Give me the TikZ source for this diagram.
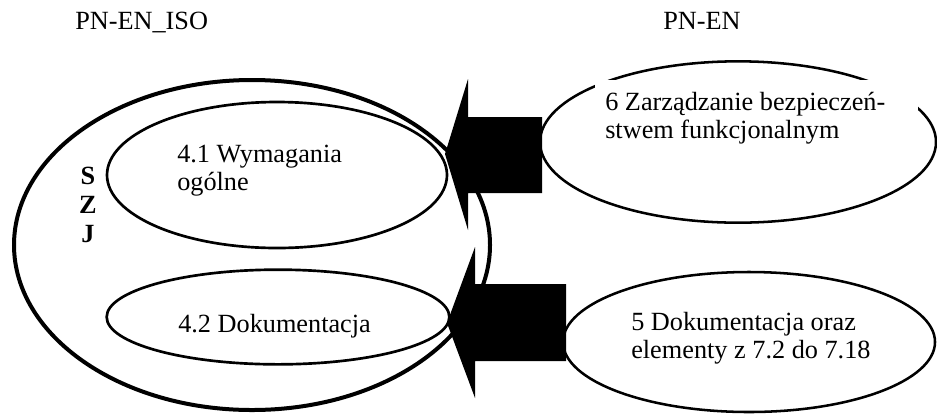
\documentclass[tikz,border=0pt]{standalone}
\usepackage{fontspec}
\setmainfont{Liberation Serif}
\usetikzlibrary{%
  shapes.geometric,% ellipse
  positioning%
}

\begin{document}
\begin{tikzpicture}[
  x=0.75pt, y=-0.75pt,
  font=\fontsize{19.7}{21}\selectfont,
  outer/.style={ellipse, inner sep=0pt, draw=black, line width=3pt},
  inner/.style={ellipse, inner sep=0pt, draw=black, line width=2pt},
  clause/.style={ellipse, inner sep=0pt, draw=black, line width=1.9pt},
  txt/.style={anchor=base west, inner sep=0pt, align=flush left}
]
\useasboundingbox (0,0) rectangle (937,415);

\node (iso) [anchor=base west, inner sep=0pt] at (75,29) {PN-EN\_ISO};
\node (en) [anchor=base west, inner sep=0pt] at (663,29) {PN-EN};

\node[outer, minimum width=357pt, minimum height=247.5pt] (szj) at (252,245) {};
\node[inner, minimum width=255pt, minimum height=109.5pt] (wym) at (277,175) {};
\node[inner, minimum width=257pt, minimum height=71pt] (dok) at (278,317) {};
\node[clause, minimum width=297pt, minimum height=121pt] (zarz) at (738,142) {};
\node[clause, minimum width=279pt, minimum height=105pt] (elem) at (749,342) {};

\node[txt] (wymtxt) at (177,190) {4.1 Wymagania\\ogólne};
\node[txt] (doktxt) at (178,332) {4.2 Dokumentacja};
\node[txt, fill=white, inner xsep=7.5pt, inner ysep=9pt, text width=227pt] (zarztxt) at (595,110) {6 Zarządzanie bezpieczeń-\\stwem funkcjonalnym};
\node[txt] (elemtxt) at (631,358) {5 Dokumentacja oraz\\elementy z 7.2 do 7.18};
\node[anchor=base, inner sep=0pt, align=center, font=\fontsize{19.7}{21.5}\selectfont\bfseries] (szjtxt) at (88,242) {S\\Z\\J};

\coordinate (tipA) at (445,154);
\coordinate (tipB) at (447,323);
\fill (tipA) -- ++(23,-75) -- ++(0,38) -- ++(74,0) -- ++(0,76) -- ++(-74,0) -- ++(0,37) -- cycle;
\fill (tipB) -- ++(28,-76) -- ++(0,37) -- ++(91,0) -- ++(0,77) -- ++(-91,0) -- ++(0,37) -- cycle;

\end{tikzpicture}
\end{document}
